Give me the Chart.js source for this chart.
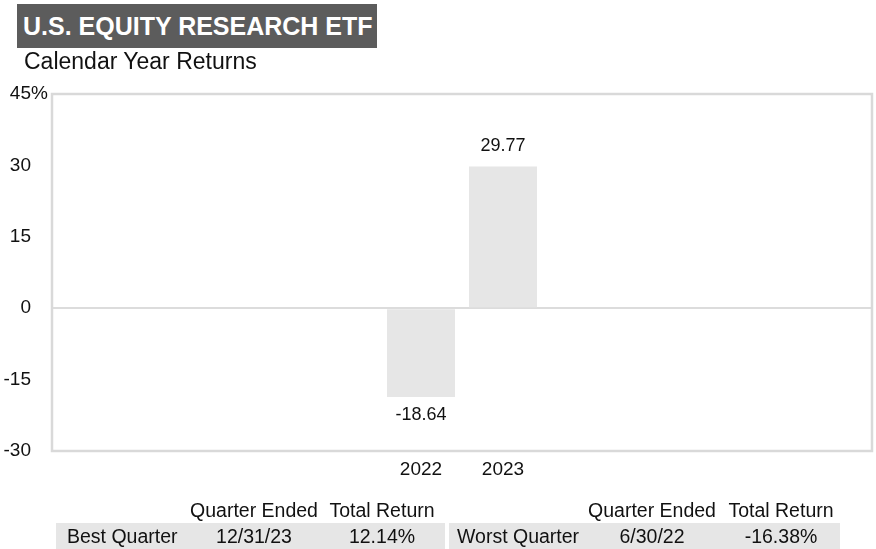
<!DOCTYPE html>
<html>
<head>
<meta charset="utf-8">
<script src="https://cdn.jsdelivr.net/npm/chart.js@4.4.1/dist/chart.umd.min.js"></script>
<style>
    html, body { margin: 0; padding: 0; background: #fff; }
    body { width: 876px; height: 549px; position: relative; overflow: hidden; font-family: "Liberation Sans", Arial, sans-serif; color: #111; }
    #wrap { position: absolute; left: 0; top: 0; width: 876px; height: 549px; }
    .abs { position: absolute; white-space: nowrap; }
    #title { left: 17px; top: 4px; width: 360px; height: 44px; background: #5c5c5c; color: #fff; font-weight: bold; font-size: 25px; line-height: 44px; padding-left: 6px; box-sizing: border-box; }
    #subtitle { left: 24px; top: 47px; font-size: 23px; line-height: 28px; }
    .cell { font-size: 19.5px; line-height: 24px; }
    .ctr { transform: translateX(-50%); }
    .band { position: absolute; top: 523px; height: 26px; background: #e6e6e6; }
</style>
</head>
<body>
<div id="wrap"><canvas id="chart"></canvas></div>
<div id="title" class="abs">U.S. EQUITY RESEARCH ETF</div>
<div id="subtitle" class="abs">Calendar Year Returns</div>
<div id="table"></div>
<script>
// calendar year returns (%), only 2022 and 2023 exist
const years = ["", "", "", "", "2022", "2023", "", "", "", ""];
const returns = [null, null, null, null, -18.64, 29.77, null, null, null, null];
const yTicks = [-30, -15, 0, 15, 30, 45];

// best / worst quarter table
const quarterNames = ["Best Quarter", "Worst Quarter"];
const quarterDates = ["12/31/23", "6/30/22"];
const quarterReturns = ["12.14%", "-16.38%"];
const tableHeaders = ["Quarter Ended", "Total Return"];

function buildTable(){
    const bands = [[56, 389], [449, 391]];
    const nameX = [67, 457];
    const dateX = [254, 652];
    const retX = [382, 781];
    let html = "";
    for (let i = 0; i < quarterNames.length; i++) {
        html += '<div class="band" style="left:' + bands[i][0] + 'px;width:' + bands[i][1] + 'px"></div>';
        html += '<div class="abs cell ctr" style="left:' + dateX[i] + 'px;top:498px">' + tableHeaders[0] + '</div>';
        html += '<div class="abs cell ctr" style="left:' + retX[i] + 'px;top:498px">' + tableHeaders[1] + '</div>';
        html += '<div class="abs cell" style="left:' + nameX[i] + 'px;top:524px">' + quarterNames[i] + '</div>';
        html += '<div class="abs cell ctr" style="left:' + dateX[i] + 'px;top:524px">' + quarterDates[i] + '</div>';
        html += '<div class="abs cell ctr" style="left:' + retX[i] + 'px;top:524px">' + quarterReturns[i] + '</div>';
    }
    document.getElementById("table").innerHTML = html;
}
buildTable();

const frameAndLabels = {
    id: "frameAndLabels",
    afterDatasetsDraw(chart) {
        const ctx = chart.ctx;
        const meta = chart.getDatasetMeta(0);
        ctx.save();
        ctx.font = "18px 'Liberation Sans', Arial, sans-serif";
        ctx.fillStyle = "#111";
        ctx.textAlign = "center";
        ctx.textBaseline = "middle";
        meta.data.forEach(function(bar, i){
            const v = returns[i];
            if (v === null) return;
            const y = v >= 0 ? bar.y - 20 : bar.y + 18;
            ctx.fillText(v.toFixed(2), bar.x, y);
        });
        ctx.restore();
    },
    afterDraw(chart) {
        const ctx = chart.ctx;
        const a = chart.chartArea;
        const yScale = chart.scales.y;
        ctx.save();
        ctx.strokeStyle = "#d9d9d9";
        ctx.lineWidth = 2.5;
        ctx.strokeRect(a.left, a.top, a.right - a.left, a.bottom - a.top);
        ctx.font = "19px 'Liberation Sans', Arial, sans-serif";
        ctx.fillStyle = "#111";
        ctx.textAlign = "left";
        ctx.textBaseline = "middle";
        ctx.fillText("%", 31, yScale.getPixelForValue(yTicks[yTicks.length - 1]));
        ctx.restore();
    }
};

const ctx = document.getElementById("chart");
const chart = new Chart(ctx, {
    type: "bar",
    data: {
        labels: years,
        datasets: [{
            data: returns,
            backgroundColor: "#e6e6e6",
            barPercentage: 0.83,
            categoryPercentage: 1.0
        }]
    },
    options: {
        responsive: true,
        maintainAspectRatio: false,
        animation: false,
        devicePixelRatio: 1,
        layout: {
            padding: { left: 0, right: 4, top: 94, bottom: 58 }
        },
        plugins: {
            legend: { display: false },
            tooltip: { enabled: false }
        },
        scales: {
            x: {
                grid: { display: false, drawTicks: false },
                border: { display: false },
                ticks: {
                    color: "#111",
                    padding: 7,
                    maxRotation: 0,
                    autoSkip: false,
                    font: { family: "'Liberation Sans', Arial, sans-serif", size: 19 }
                },
                afterFit: function(scale){ scale.height = 40; }
            },
            y: {
                min: yTicks[0],
                max: yTicks[yTicks.length - 1],
                afterBuildTicks: function(scale){
                    scale.ticks = yTicks.map(function(v){ return { value: v }; });
                },
                grid: {
                    drawTicks: false,
                    lineWidth: 2,
                    color: function(c){ return c.tick && c.tick.value === 0 ? "#dcdcdc" : "rgba(0,0,0,0)"; }
                },
                border: { display: false },
                ticks: {
                    color: "#111",
                    padding: 21,
                    font: { family: "'Liberation Sans', Arial, sans-serif", size: 19 },
                    callback: function(v){ return String(v); }
                },
                afterFit: function(scale){ scale.width = 52; }
            }
        }
    },
    plugins: [frameAndLabels]
});
</script>
</body>
</html>
